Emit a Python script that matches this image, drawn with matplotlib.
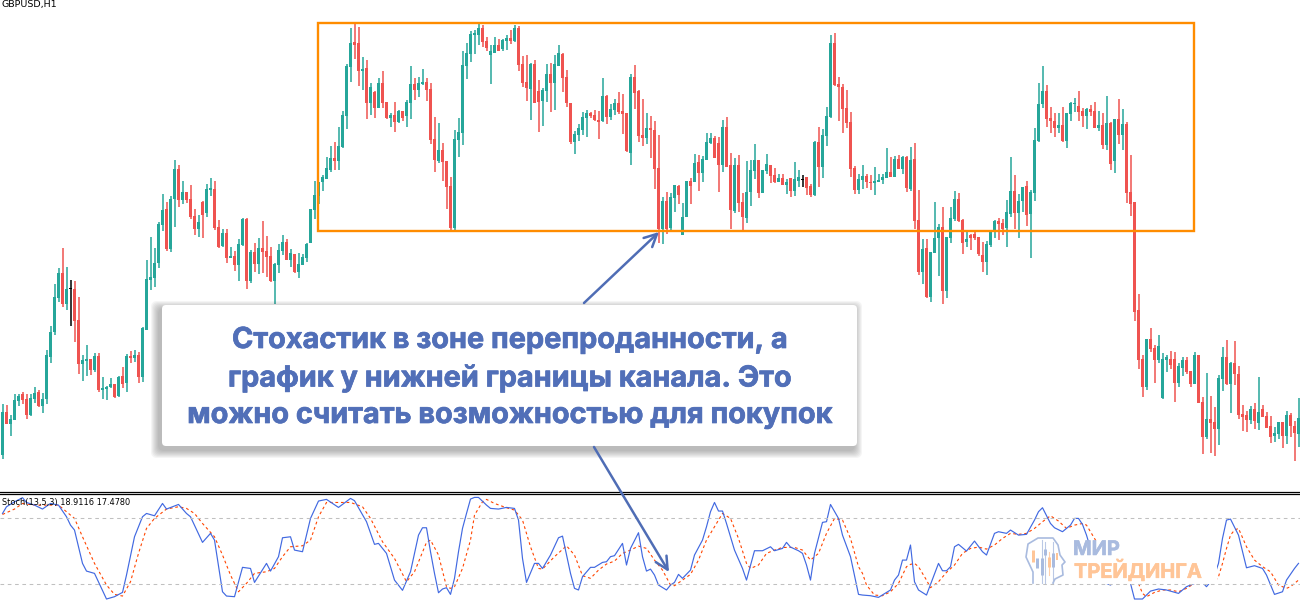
import matplotlib
matplotlib.use("Agg")
import matplotlib.pyplot as plt
import matplotlib.patheffects as pe
from matplotlib.patches import FancyBboxPatch, Rectangle

# candle values, one group per 25 bars
body_top = [
    412,412,419,400,396,394,399,398,393,392,399,355,332,297,273,273,289,288,289,320,360,359,359,356,356,
    388,387,384,384,377,376,356,356,355,355,328,279,277,263,224,210,209,199,169,169,192,192,199,216,222,
    202,189,188,189,227,233,233,256,256,244,219,219,252,252,248,248,251,256,264,250,242,242,253,254,264,
    257,244,209,195,182,177,168,158,158,146,115,66,43,42,43,69,68,87,92,83,83,102,115,115,111,
    111,102,84,84,83,82,82,89,139,150,150,161,186,139,132,65,53,34,33,28,28,41,51,45,45,
    40,38,38,28,28,64,82,64,64,91,90,74,74,64,53,54,77,103,134,128,117,113,113,115,120,
    96,96,109,103,103,111,113,77,77,91,135,128,128,130,168,201,201,197,185,186,217,181,181,163,162,
    159,142,138,138,143,127,127,165,165,165,202,192,170,160,160,170,164,165,175,178,178,182,178,179,177,
    179,177,186,142,142,135,116,43,43,84,87,108,122,168,179,176,176,182,181,180,177,172,172,159,159,
    157,157,160,159,220,249,248,252,238,227,227,237,218,199,199,220,239,235,234,237,255,244,230,221,221,
    223,212,191,191,201,187,186,192,140,104,91,91,118,121,125,125,113,103,103,106,111,109,109,111,125,
    125,123,123,119,119,124,124,192,202,310,359,339,339,348,346,359,357,359,359,366,360,360,371,355,355,
    402,419,419,422,378,357,357,363,363,374,414,415,409,409,412,409,416,426,433,422,422,415,415,426,418,
]
body_bot = [
    455,424,424,420,401,400,415,415,399,406,406,399,357,332,298,304,304,288,321,364,364,361,370,370,390,
    390,389,387,397,396,384,383,358,358,377,377,330,280,278,263,225,249,249,199,200,200,200,217,229,229,
    215,213,190,228,247,246,258,258,265,265,245,281,281,264,264,252,257,281,281,265,251,260,260,272,272,
    265,258,243,210,196,182,179,170,161,161,147,116,67,45,71,71,103,103,108,108,103,118,118,122,122,
    118,116,103,90,90,84,90,140,160,161,162,187,228,228,140,133,66,54,35,35,42,48,55,53,51,
    49,41,41,41,65,83,88,89,103,102,101,91,83,83,66,78,103,142,142,135,130,118,116,120,122,
    121,117,117,110,112,114,151,153,93,136,138,138,130,169,229,229,229,228,198,195,235,217,186,182,173,
    173,160,143,158,165,165,167,210,211,203,217,218,192,171,193,193,171,176,182,182,185,185,191,191,181,
    179,188,195,195,167,167,136,117,85,87,109,123,169,190,190,180,182,183,183,182,180,178,177,177,169,
    169,188,189,221,272,272,297,297,253,238,291,291,238,219,221,243,242,238,238,254,262,262,245,231,224,
    229,228,214,213,213,201,215,214,193,141,104,119,121,128,128,141,141,114,104,112,116,116,112,128,128,
    145,145,164,161,135,135,193,204,312,360,387,387,349,360,360,398,360,365,383,383,368,372,384,384,403,
    437,437,423,429,429,379,384,384,374,415,417,420,420,421,423,417,428,437,436,434,436,436,426,433,434,
]
wick_hi = [
    404,405,415,394,394,392,394,394,387,390,393,350,326,284,268,248,267,280,281,297,355,345,359,353,353,
    377,386,378,384,376,367,354,351,350,352,327,260,237,248,222,194,202,196,160,165,181,192,185,209,215,
    201,184,178,181,220,229,229,247,251,239,218,218,250,243,238,221,236,247,263,244,235,239,249,254,253,
    254,243,209,181,182,175,157,146,142,127,111,64,28,23,27,57,60,83,91,78,71,102,113,102,110,
    111,100,66,78,77,69,78,83,117,123,143,161,177,130,118,51,43,31,30,22,25,37,45,37,39,
    39,35,30,25,26,56,55,63,60,80,88,64,63,55,45,53,70,103,131,124,112,110,112,110,111,
    78,95,104,99,92,94,113,74,65,90,99,113,116,121,135,197,192,193,185,185,203,181,178,154,155,
    156,133,133,136,137,120,117,153,158,155,193,161,160,144,160,170,154,165,168,174,174,179,178,162,170,
    175,177,184,141,127,129,107,35,33,77,84,90,112,166,174,165,174,175,167,174,174,148,157,156,155,
    156,156,147,143,190,239,239,252,202,224,207,237,207,191,193,219,232,234,231,237,242,241,230,220,218,
    219,200,157,175,194,187,181,190,128,83,66,85,107,113,113,107,113,102,98,91,108,108,105,102,111,
    113,96,122,119,99,109,122,155,202,294,355,339,328,345,335,353,355,351,352,363,357,357,371,352,355,
    397,373,396,407,375,347,340,362,341,366,405,411,406,403,377,405,412,416,427,422,422,411,413,421,398,
]
wick_lo = [
    459,424,436,420,406,404,419,416,403,407,413,404,363,335,302,307,310,326,342,374,381,376,375,372,392,
    399,400,388,398,397,388,392,363,362,383,382,330,290,287,268,231,251,252,227,207,204,203,219,235,237,
    238,217,196,230,248,247,263,258,271,281,246,289,283,272,274,273,277,282,304,273,255,260,267,273,278,
    265,262,243,219,204,191,179,172,170,170,148,129,82,59,86,90,119,115,118,108,108,119,127,132,123,
    121,127,119,100,97,85,101,144,172,163,181,209,231,231,157,145,79,62,54,45,47,51,84,53,51,
    51,50,44,42,71,87,101,120,103,132,126,102,112,110,66,92,107,144,154,141,135,137,118,121,139,
    122,124,120,115,114,134,152,165,109,142,146,144,158,189,243,244,234,231,212,204,235,217,204,182,191,
    182,160,144,158,192,172,167,229,213,212,231,223,206,179,198,193,174,183,183,182,185,194,197,196,187,
    187,195,197,196,187,178,146,118,86,121,133,128,177,194,194,189,188,190,195,182,184,178,177,177,169,
    174,192,191,229,275,284,298,302,253,276,304,298,243,221,222,254,247,250,240,256,272,275,247,238,240,
    235,247,217,229,238,212,226,258,201,142,108,127,133,137,133,142,148,121,112,121,127,129,116,128,131,
    149,150,170,173,144,150,203,216,321,369,397,390,352,383,363,399,372,369,402,387,376,374,387,384,403,
    454,439,453,456,445,391,385,413,385,419,431,432,424,429,430,417,428,443,442,439,448,444,437,461,447,
]
# g = up, r = down, k = the two black bars under the crosshair
bar_dir = (
    "grgggrrggrgggggrgkrrggrgr" "gggrgrgrgrggggggrggrgrrrg" "rggrrgrgrggrgrgrrrgggrgrg"
    "ggggggggrggggrrgrgrgrrgrg" "rggrggrrrgrrrgggggggrrggr" "ggrgrrrgrrggrggrrrggggrrr"
    "grggrrrgrrrgrrrgrggrggrgr" "gggrrgrrgrrgggrggrrgrgrgg" "krrgrgggrrrrrrggrrggggrgr"
    "grgrrgrgggrgggrrgrrrrgggr" "rggrggrggggrrrgrgggrrgrrg" "rgrgrgrrrrrgrrgggrrggrrgr"
    "rgrrggrgrrrrgrgrrrggrgrrg"
)

k_bars = [
    0,1,3,5,6,8,10,12,14,16,17,18,20,21,23,26,28,30,31,33,35,36,38,40,41,44,46,47,50,52,53,55,56,58,
    60,62,63,66,67,69,70,72,73,75,77,79,81,84,87,88,91,93,94,96,98,100,102,104,105,106,107,
    108,109,110,111,112,113,114,115,116,117,118,119,121,122,124,126,128,129,130,131,133,134,135,137,139,
    140,142,143,144,145,147,148,150,151,152,153,155,156,157,159,160,161,162,163,164,166,167,168,169,170,
    172,173,175,176,177,178,179,180,181,183,185,186,188,190,192,193,195,196,197,199,200,201,202,203,205,
    206,207,209,210,212,214,
    215,217,219,221,222,223,224,225,226,227,228,229,231,234,235,236,237,238,239,241,243,245,246,248,249,
    251,252,254,256,258,259,260,262,263,265,267,268,269,270,271,272,273,275,277,279,281,282,283,285,287,
    289,291,294,296,298,299,301,302,303,304,305,306,307,309,311,313,315,316,318,320,321,323,324,
]
k_vals = [
    83.7,89.8,94.3,98,93.7,91.3,87.7,92.8,91.3,80.7,73.1,68.6,38.3,31.3,29.2,5.9,8,11.9,27.7,62.5,80.7,83.7,81.6,92.8,87.7,91.9,83.7,80.7,57.4,65.6,59.5,12.5,8.6,8,
    34.7,33.7,21,38.3,31.3,44.4,61.6,62.5,50.4,48.9,79.2,95,96.5,89.2,97.4,95.3,76.2,55.6,56.5,47.4,23.1,13.8,30.7,64,70.7,70.7,48.9,
    29.2,11.6,15,16.2,10.1,24.7,48.9,70.1,83.7,96.8,98.3,98.3,91.3,88.3,87.7,89.2,88.3,77.7,42.8,21,38.3,38.3,33.7,45.9,61.6,
    63.1,29.2,15.6,14.1,26.2,34.7,34.7,39.2,39.8,44.4,45.3,56.5,36.8,51.9,66.2,44.4,31.3,33.1,27.7,18.6,14.1,18.6,21,28.3,24.7,
    32.2,45.9,59.5,71.6,85.3,93.7,85.9,85.9,74.6,50.4,33.7,23.1,49.8,49.8,53.4,49.8,51.9,57.4,53.1,49.8,47.4,36.8,23.1,47.4,75.6,
    76.2,91.9,79.2,64,44.4,10.1,
    9.5,8.9,7.4,11.9,14.1,23.1,27.7,41.3,41.3,55,21.6,14.1,9.5,38.3,31.6,31.6,35.3,53.4,55.6,49.5,58.6,48.9,45.9,65.6,67.1,
    65.6,68.6,64,64.7,77.7,85.3,88.9,74.6,70.7,67.1,73.1,79.2,79.2,73.7,64,51.9,36.8,21.6,18.6,24.7,27.7,20.1,5.9,5.9,13.1,
    15,14.1,11,17.1,20.1,24.7,17.1,21.6,27.7,38.3,61,77.7,78.6,64,34.3,36.2,33.7,27.7,10.1,12.5,23.1,33.7,38.3,
]
d_bars = [
    0,3,5,8,12,14,18,20,23,26,28,30,32,34,36,38,41,44,46,48,50,53,55,57,59,61,63,66,68,70,72,75,77,79,81,84,87,90,92,95,98,101,103,106,
    107,109,111,112,113,115,117,118,120,121,123,126,128,130,132,134,135,138,141,143,145,147,149,151,153,155,157,159,161,163,165,167,168,
    170,172,174,176,178,180,182,184,186,187,189,191,193,195,198,200,202,204,206,208,210,212,214,
    215,216,218,220,222,224,226,227,228,229,231,232,234,236,238,240,242,244,246,248,250,252,254,256,258,260,262,264,266,268,270,271,273,275,278,
    281,282,284,285,286,288,290,292,294,296,298,301,303,304,305,306,307,308,309,311,313,315,317,319,321,322,323,324,
]
d_vals = [
    82.8,87.7,92.8,91.3,91.3,91.3,79.2,62.5,38.3,18.6,10.1,8.6,21.6,47.4,70.1,79.2,87.7,89.8,88.3,83.7,74.6,62.5,45.9,27.7,12.5,20.1,29.2,30.7,33.7,44.4,53.4,54.3,59.5,80.7,93.7,93.7,93.7,89.8,79.2,58,42.8,21.6,30.7,57.4,
    59.5,45.9,17.1,15.6,17.1,33.7,59.5,82.2,94.3,96.5,92.8,88.9,86.8,77.7,53.4,33.7,33.1,44.4,54.3,45.9,27.1,24.7,32.2,37.7,40.4,47.4,50.4,54,51.9,41.3,32.2,18.6,18,
    23.1,28.3,41.3,59.5,71.6,83.7,79.2,61,38.3,33.7,36.8,47.4,50.4,52.8,52.8,50.4,41.3,47.4,65.6,79.2,77.7,61,35.3,
    29.2,18.6,9.5,8.9,12.5,20.1,35.3,37.4,38.3,35.3,23.1,16.2,21.6,30.1,36.8,47.4,51.9,53.1,51.3,55,61,65.6,64.7,65.6,70.1,76.2,81.6,76.8,70.1,73.1,74.6,73.1,61,48.9,33.7,
    24.7,20.1,20.1,11,8,11.9,14.1,14.1,12.5,15.6,20.1,21.6,21.6,26.2,38.3,51.9,64,68.6,70.1,53.4,41.3,35.3,30.7,18.6,15.6,17.1,20.1,23.1,
]

levels = [20, 80]

callout = ["Стохастик в зоне перепроданности, а",
           "график у нижней границы канала. Это",
           "можно считать возможностью для покупок"]

green = "#26A69A"
red = "#EF5350"
orange = "#FF8C00"
arrow_blue = "#4F6DB5"
text_blue = "#516FB8"
logo_blue = "#A9BBDF"
logo_orange = "#FFC597"

assert len(body_top) == len(body_bot) == len(wick_hi) == len(wick_lo) == len(bar_dir)
assert len(k_bars) == len(k_vals) and len(d_bars) == len(d_vals)

bars = list(range(len(bar_dir)))
colors = [{"g": green, "r": red, "k": "black"}[c] for c in bar_dir]

fig = plt.figure(figsize=(13, 6), dpi=100, facecolor="white")

# price window, y runs down like on the terminal
ax = fig.add_axes([0, 1 - 491 / 600, 1, 491 / 600])
ax.set_xlim(-0.625, 324.375)
ax.set_ylim(491, 0)
ax.axis("off")
ax.vlines(bars, wick_hi, wick_lo, colors=colors, linewidth=1.1)
heights = [max(b - t, 1) for t, b in zip(body_top, body_bot)]
ax.bar(bars, heights, bottom=body_top, width=0.8, color=colors, linewidth=0, antialiased=False)
ax.add_patch(Rectangle((78.875, 23), 219, 208, fill=False, edgecolor=orange, linewidth=1.7, zorder=5))

# stochastic window
ax2 = fig.add_axes([0, 0, 1, 106 / 600])
ax2.set_xlim(-0.625, 324.375)
ax2.set_ylim(5, 101.4)
ax2.axis("off")
ax2.plot(d_bars, d_vals, color="#FF4500", linewidth=0.8, linestyle=(0, (2.5, 2.5)), zorder=2)
ax2.plot(k_bars, k_vals, color="#4169E1", linewidth=0.85, zorder=3)
ax2.axvspan(255.6, 303.6, ymin=0.155, ymax=0.56, color="white", linewidth=0, zorder=4)
for lev in levels:
    ax2.axhline(lev, color="#C0C0C0", linewidth=0.75, linestyle=(0, (3.5, 3.5)), zorder=5)

# everything pasted on top of the screenshot is placed in picture pixels
over = fig.add_axes([0, 0, 1, 1], facecolor="none")
over.set_xlim(0, 1300)
over.set_ylim(600, 0)
over.axis("off")

over.plot([0, 1300], [491.5, 491.5], color="black", linewidth=0.9)
over.plot([0, 1300], [493.5, 493.5], color="black", linewidth=0.9)
over.text(2, 502, "Stoch(13,5,3) 18.9116 17.4780", color="black", fontsize=5.9, va="center", ha="left")
over.text(2, 5, "GBPUSD,H1", color="black", fontsize=6.8, va="center", ha="left")

arrow = dict(arrowstyle="->,head_length=0.9,head_width=0.45", color=arrow_blue, linewidth=1.8,
             shrinkA=0, shrinkB=0)
over.annotate("", xy=(659, 232), xytext=(584, 303), arrowprops=arrow)
over.annotate("", xy=(669, 572), xytext=(594, 447), arrowprops=arrow)

# soft shadow, then the card
for grow in range(8, 0, -1):
    over.add_patch(FancyBboxPatch((159 - grow, 309 - grow), 695 + 2 * grow, 141 + 2 * grow,
                                  boxstyle="round,pad=0,rounding_size=6", facecolor="#404040",
                                  edgecolor="none", alpha=0.05))
over.add_patch(FancyBboxPatch((162, 305), 695, 141, boxstyle="round,pad=0,rounding_size=4",
                              facecolor="white", edgecolor="none"))
for line, y in zip(callout, [340.5, 378.5, 415.5]):
    over.text(509.5, y, line, color=text_blue, fontsize=20.8, fontweight="bold", family="Inter",
              ha="center", va="center",
              path_effects=[pe.withStroke(linewidth=0.5, foreground=text_blue)])

# logo
head_x = [1033, 1033, 1026, 1028, 1038, 1053, 1058, 1060, 1065, 1062, 1063, 1055, 1053]
head_y = [583, 572, 557, 544, 538, 538, 545, 555, 562, 565, 575, 579, 583]
over.plot(head_x, head_y, color=logo_blue, linewidth=1.2)
for x, y1, y2, c, w in [(1033, 550, 562, logo_orange, 3), (1037, 558, 568, logo_blue, 3),
                        (1042, 558, 575, logo_blue, 3), (1045, 549, 555, logo_blue, 3),
                        (1049, 557, 567, logo_orange, 3), (1053, 553, 567, logo_blue, 3),
                        (1057, 553, 560, logo_orange, 2)]:
    over.plot([x, x], [y1, y2], color=c, linewidth=w * 0.72, solid_capstyle="butt")
for x, y1, y2, c in [(1042, 540, 583, logo_blue), (1045, 542, 583, logo_blue),
                     (1049, 552, 575, logo_orange), (1053, 542, 583, logo_blue)]:
    over.plot([x, x], [y1, y2], color=c, linewidth=0.8, alpha=0.8)
over.text(1073, 550, "МИР", color=logo_blue, fontsize=14.4, fontweight="bold", family="Inter",
          ha="left", va="center", path_effects=[pe.withStroke(linewidth=0.4, foreground=logo_blue)])
over.text(1074, 570.5, "ТРЕЙДИНГА", color=logo_orange, fontsize=14.4, fontweight="bold", family="Inter",
          ha="left", va="center", path_effects=[pe.withStroke(linewidth=0.4, foreground=logo_orange)])

fig.savefig("out.png", dpi=100)
